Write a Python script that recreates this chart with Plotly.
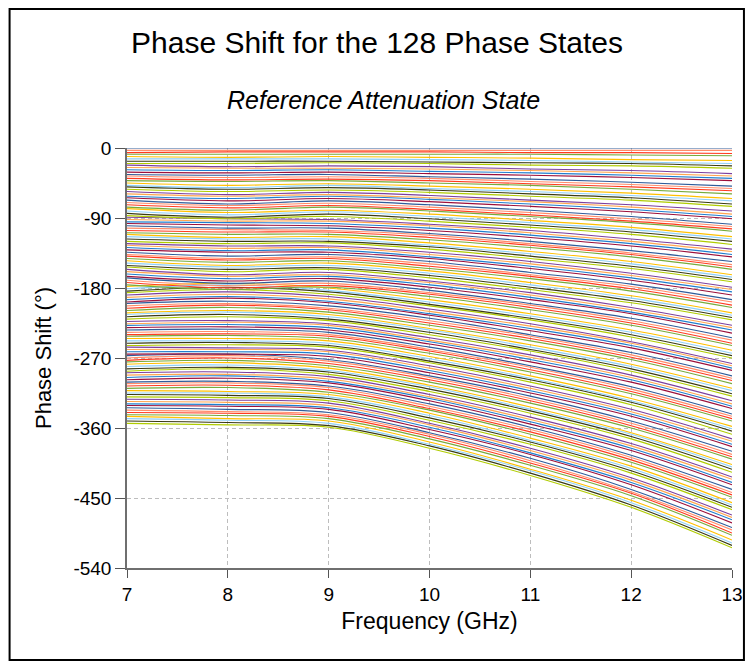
import plotly.graph_objects as go

# Frequency points (GHz)
freqs = [7, 8, 9, 10, 11, 12, 13]

# Phase shift (deg) of each of the 128 states, read at each frequency
phase_7ghz = [
    0, -3, -6, -8, -11, -14, -17, -20, -22, -25, -28, -31, -34, -36, -39, -42,
    -45, -48, -50, -53, -56, -59, -62, -64, -67, -70, -73, -76, -78, -81, -84, -87,
    -89, -92, -95, -97, -100, -103, -106, -109, -111, -114, -117, -120, -123, -125, -128, -131,
    -134, -137, -139, -142, -145, -148, -151, -153, -156, -159, -162, -165, -167, -170, -173, -176,
    -178, -181, -184, -186, -189, -192, -195, -198, -200, -203, -206, -209, -212, -214, -217, -220,
    -223, -226, -228, -231, -234, -237, -240, -242, -245, -248, -251, -254, -256, -259, -262, -265,
    -267, -270, -273, -275, -278, -281, -284, -287, -289, -292, -295, -298, -301, -303, -306, -309,
    -312, -315, -317, -320, -323, -326, -329, -331, -334, -337, -340, -343, -345, -348, -351, -354,
]
phase_8ghz = [
    0, -3, -5, -8, -12, -14, -17, -20, -24, -26, -29, -32, -35, -38, -41, -43,
    -48, -51, -53, -56, -60, -62, -65, -68, -72, -74, -77, -80, -83, -86, -89, -91,
    -91, -94, -96, -99, -103, -105, -108, -111, -115, -117, -120, -123, -126, -129, -132, -134,
    -139, -142, -144, -147, -151, -153, -156, -159, -163, -165, -168, -171, -174, -177, -180, -182,
    -174, -176, -179, -182, -185, -188, -191, -193, -197, -200, -202, -205, -209, -211, -214, -217,
    -222, -224, -227, -230, -233, -236, -239, -241, -245, -248, -250, -253, -257, -259, -262, -265,
    -265, -267, -270, -273, -276, -279, -282, -284, -288, -291, -293, -296, -300, -302, -305, -308,
    -313, -315, -318, -321, -324, -327, -330, -332, -336, -339, -341, -344, -348, -350, -353, -356,
]
phase_9ghz = [
    0, -3, -5, -8, -11, -14, -17, -19, -23, -26, -28, -31, -34, -37, -40, -42,
    -46, -48, -51, -54, -57, -60, -62, -65, -68, -71, -74, -76, -80, -82, -85, -88,
    -92, -94, -97, -100, -103, -106, -108, -111, -114, -117, -120, -122, -126, -128, -131, -134,
    -137, -140, -142, -145, -148, -151, -154, -156, -160, -163, -165, -168, -171, -174, -177, -179,
    -180, -183, -185, -188, -191, -194, -197, -199, -203, -206, -208, -211, -214, -217, -220, -222,
    -226, -228, -231, -234, -237, -240, -242, -245, -248, -251, -254, -256, -260, -262, -265, -268,
    -272, -274, -277, -280, -283, -286, -288, -291, -294, -297, -300, -302, -306, -308, -311, -314,
    -317, -320, -322, -325, -328, -331, -334, -336, -340, -343, -345, -348, -351, -354, -357, -359,
]
phase_10ghz = [
    0, -3, -5, -8, -12, -15, -18, -20, -24, -27, -30, -33, -37, -39, -42, -45,
    -49, -52, -54, -57, -61, -64, -66, -69, -73, -76, -79, -81, -85, -88, -91, -94,
    -98, -100, -103, -106, -110, -112, -115, -118, -122, -125, -127, -130, -134, -137, -140, -142,
    -146, -149, -152, -155, -158, -161, -164, -167, -171, -173, -176, -179, -183, -186, -188, -191,
    -195, -198, -201, -203, -207, -210, -213, -215, -219, -222, -225, -228, -232, -234, -237, -240,
    -244, -247, -249, -252, -256, -259, -261, -264, -268, -271, -274, -276, -280, -283, -286, -289,
    -293, -295, -298, -301, -305, -307, -310, -313, -317, -320, -322, -325, -329, -332, -335, -337,
    -341, -344, -347, -350, -354, -356, -359, -362, -366, -368, -371, -374, -378, -381, -383, -386,
]
phase_11ghz = [
    0, -3, -6, -8, -13, -16, -19, -22, -27, -29, -32, -35, -40, -43, -46, -48,
    -53, -56, -59, -62, -67, -69, -72, -75, -80, -83, -86, -88, -93, -96, -99, -102,
    -106, -109, -112, -115, -120, -123, -125, -128, -133, -136, -139, -142, -146, -149, -152, -155,
    -160, -163, -165, -168, -173, -176, -179, -182, -186, -189, -192, -195, -200, -202, -205, -208,
    -213, -216, -219, -221, -226, -229, -232, -235, -240, -242, -245, -248, -253, -256, -259, -261,
    -266, -269, -272, -275, -280, -282, -285, -288, -293, -296, -298, -301, -306, -309, -312, -315,
    -319, -322, -325, -328, -333, -336, -338, -341, -346, -349, -352, -355, -359, -362, -365, -368,
    -373, -376, -378, -381, -386, -389, -392, -394, -399, -402, -405, -408, -413, -415, -418, -421,
]
phase_12ghz = [
    0, -3, -6, -9, -15, -18, -20, -23, -29, -32, -35, -38, -44, -47, -50, -53,
    -58, -61, -64, -67, -73, -76, -79, -82, -88, -91, -94, -96, -102, -105, -108, -111,
    -117, -120, -123, -126, -132, -135, -137, -140, -146, -149, -152, -155, -161, -164, -167, -170,
    -175, -178, -181, -184, -190, -193, -196, -199, -205, -208, -211, -213, -219, -222, -225, -228,
    -234, -237, -240, -243, -249, -251, -254, -257, -263, -266, -269, -272, -278, -281, -284, -287,
    -292, -295, -298, -301, -307, -310, -313, -316, -322, -325, -327, -330, -336, -339, -342, -345,
    -351, -354, -357, -360, -366, -368, -371, -374, -380, -383, -386, -389, -395, -398, -401, -404,
    -409, -412, -415, -418, -424, -427, -430, -433, -439, -442, -444, -447, -453, -456, -459, -462,
]
phase_13ghz = [
    0, -3, -7, -10, -16, -20, -23, -26, -33, -36, -39, -42, -49, -52, -55, -59,
    -65, -68, -72, -75, -81, -85, -88, -91, -98, -101, -104, -107, -114, -117, -120, -124,
    -130, -133, -137, -140, -146, -150, -153, -156, -163, -166, -169, -172, -179, -182, -185, -189,
    -195, -198, -202, -205, -212, -215, -218, -221, -228, -231, -234, -238, -244, -247, -251, -254,
    -260, -264, -267, -270, -277, -280, -283, -286, -293, -296, -299, -303, -309, -312, -316, -319,
    -325, -329, -332, -335, -342, -345, -348, -351, -358, -361, -364, -368, -374, -377, -381, -384,
    -390, -394, -397, -400, -407, -410, -413, -417, -423, -426, -430, -433, -439, -443, -446, -449,
    -456, -459, -462, -465, -472, -475, -478, -482, -488, -491, -495, -498, -504, -508, -511, -514,
]

x_ticks = [7, 8, 9, 10, 11, 12, 13]
y_ticks = [0, -90, -180, -270, -360, -450, -540]

palette = [
    "#2e5c9a", "#ff8c69", "#ff3b1f", "#77ab3c", "#ffc000", "#8fd0f8",
    "#3a3a12", "#b0cc00", "#7b3f9e", "#ffa54f", "#1f7fcf", "#9c0f3a",
]

columns = [phase_7ghz, phase_8ghz, phase_9ghz, phase_10ghz,
           phase_11ghz, phase_12ghz, phase_13ghz]

FONT = "Liberation Sans, Arial, sans-serif"

fig = go.Figure()
for k in range(len(phase_7ghz) - 1, -1, -1):
    fig.add_trace(go.Scatter(
        x=freqs,
        y=[col[k] for col in columns],
        mode="lines",
        line=dict(color=palette[k % len(palette)], width=1.1, shape="spline", smoothing=1.0),
        showlegend=False,
        hoverinfo="skip",
        name=f"State {k}",
    ))

W, H = 755, 664
L, R, T, B = 127, 20, 148, 96
pw, ph = W - L - R, H - T - B


def px(x):
    return (x - L) / pw


def py(y):
    return (H - B - y) / ph


fig.update_layout(
    width=W, height=H,
    margin=dict(l=L, r=R, t=T, b=B),
    paper_bgcolor="white", plot_bgcolor="white",
    font=dict(family=FONT, color="black"),
    shapes=[dict(type="rect", xref="paper", yref="paper",
                 x0=px(9), x1=px(747), y0=py(660), y1=py(9),
                 line=dict(color="black", width=2), fillcolor="rgba(0,0,0,0)",
                 layer="above")],
    annotations=[
        dict(text="Phase Shift for the 128 Phase States", xref="paper", yref="paper",
             x=px(378), y=py(42), xanchor="center", yanchor="middle",
             showarrow=False, font=dict(size=30, family=FONT, color="black")),
        dict(text="<i>Reference Attenuation State</i>", xref="paper", yref="paper",
             x=px(385), y=py(100), xanchor="center", yanchor="middle",
             showarrow=False, font=dict(size=25, family=FONT, color="black")),
    ],
)

fig.update_xaxes(
    range=[7, 13], tickvals=x_ticks, ticktext=[str(v) for v in x_ticks],
    showgrid=True, gridcolor="#bdbdbd", griddash="4px,3px", gridwidth=1,
    showline=True, linecolor="#6f6f6f", linewidth=1.5,
    ticks="outside", ticklen=8, tickcolor="#555555", tickwidth=1,
    tickfont=dict(size=19, family=FONT, color="black"),
    zeroline=False,
    title=dict(text="Frequency (GHz)", font=dict(size=23, family=FONT, color="black"), standoff=9),
)
fig.update_yaxes(
    range=[-540, 0], tickvals=y_ticks, ticktext=[str(v) for v in y_ticks],
    showgrid=True, gridcolor="#bdbdbd", griddash="4px,3px", gridwidth=1,
    showline=True, linecolor="#6f6f6f", linewidth=1.5,
    ticks="outside", ticklen=10, tickcolor="#555555", tickwidth=1,
    tickfont=dict(size=19, family=FONT, color="black"),
    zeroline=False,
    title=dict(text="Phase Shift (°)", font=dict(size=22, family=FONT, color="black"), standoff=16),
)

fig.write_html("out.html")
